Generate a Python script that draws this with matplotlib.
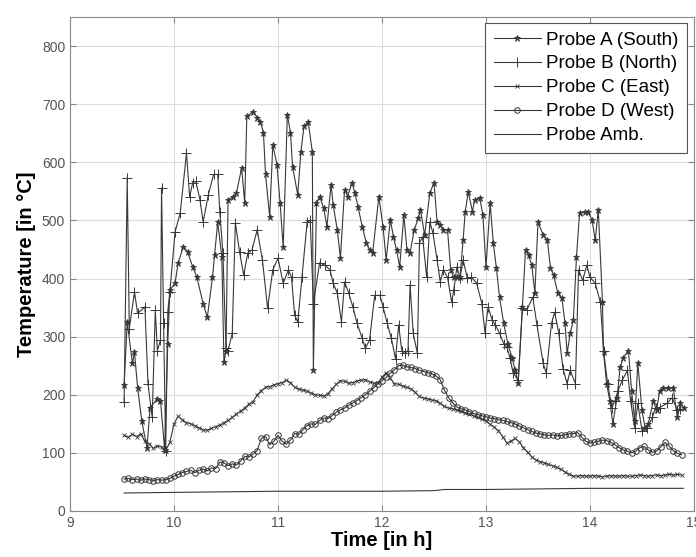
import numpy as np
import matplotlib
matplotlib.use("Agg")
import matplotlib.pyplot as plt

plt.rcParams['font.family'] = ['Liberation Sans', 'DejaVu Sans']

# Probe A (South)
t_a = [9.52, 9.55, 9.60, 9.62, 9.65, 9.69, 9.74, 9.77, 9.84, 9.87, 9.91, 9.94, 9.96, 10.01, 10.04,
       10.09, 10.13, 10.18, 10.22, 10.28, 10.32, 10.37, 10.39, 10.42, 10.46, 10.48, 10.50, 10.52, 10.57,
       10.60, 10.65, 10.68, 10.70, 10.76, 10.80, 10.83, 10.86, 10.88, 10.92, 10.95, 10.99, 11.02, 11.05,
       11.09, 11.12, 11.14, 11.19, 11.22, 11.25, 11.29, 11.33, 11.34, 11.37, 11.40, 11.44, 11.47, 11.51,
       11.53, 11.57, 11.60, 11.64, 11.67, 11.71, 11.74, 11.77, 11.81, 11.85, 11.88, 11.91, 11.97, 12.01,
       12.04, 12.08, 12.11, 12.14, 12.17, 12.21, 12.24, 12.27, 12.31, 12.35, 12.37, 12.41, 12.46, 12.50,
       12.53, 12.56, 12.59, 12.63, 12.66, 12.69, 12.72, 12.75, 12.78, 12.80, 12.83, 12.87, 12.89, 12.94,
       12.97, 13.00, 13.04, 13.07, 13.10, 13.13, 13.17, 13.21, 13.25, 13.28, 13.31, 13.35, 13.38, 13.41,
       13.44, 13.47, 13.50, 13.55, 13.59, 13.62, 13.65, 13.69, 13.73, 13.76, 13.78, 13.81, 13.84, 13.87,
       13.90, 13.95, 13.98, 14.02, 14.05, 14.08, 14.12, 14.13, 14.16, 14.19, 14.22, 14.26, 14.29, 14.32,
       14.37, 14.40, 14.43, 14.46, 14.50, 14.53, 14.56, 14.61, 14.64, 14.67, 14.70, 14.75, 14.80, 14.84,
       14.87, 14.90]
v_a = [216, 325, 254, 273, 212, 155, 109, 178, 193, 190, 105, 288, 380, 392, 427,
       455, 446, 420, 402, 357, 333, 402, 440, 497, 437, 256, 276, 535, 541,
       547, 590, 530, 679, 687, 677, 670, 651, 579, 506, 630, 596, 530, 454,
       682, 651, 592, 544, 618, 662, 670, 618, 242, 530, 541, 521, 489, 561,
       527, 484, 435, 553, 541, 565, 547, 523, 489, 461, 449, 444, 541, 489,
       432, 501, 472, 449, 420, 509, 449, 444, 484, 504, 518, 475, 547, 565,
       497, 492, 484, 484, 415, 402, 402, 402, 466, 515, 549, 515, 535, 539,
       509, 420, 530, 461, 418, 368, 323, 288, 264, 242, 221, 351, 449, 440,
       423, 375, 497, 475, 466, 418, 406, 375, 366, 323, 271, 306, 328, 437,
       513, 515, 515, 501, 466, 518, 359, 273, 219, 190, 150, 195, 247, 264,
       276, 207, 155, 254, 173, 143, 150, 190, 173, 207, 211, 211, 212, 161,
       185, 178]

# Probe B (North)
t_b = [9.52, 9.55, 9.57, 9.62, 9.65, 9.72, 9.75, 9.79, 9.82, 9.84, 9.87, 9.88, 9.90, 9.92, 9.94,
       9.96, 10.01, 10.06, 10.12, 10.15, 10.18, 10.21, 10.25, 10.28, 10.33, 10.38, 10.42, 10.44, 10.47,
       10.50, 10.52, 10.56, 10.59, 10.63, 10.67, 10.71, 10.75, 10.80, 10.85, 10.90, 10.95, 11.00, 11.05,
       11.10, 11.13, 11.16, 11.19, 11.23, 11.28, 11.31, 11.34, 11.40, 11.45, 11.50, 11.53, 11.57, 11.61,
       11.64, 11.68, 11.72, 11.76, 11.81, 11.84, 11.88, 11.93, 11.98, 12.01, 12.05, 12.09, 12.13, 12.16,
       12.19, 12.22, 12.25, 12.27, 12.30, 12.34, 12.36, 12.39, 12.43, 12.46, 12.49, 12.53, 12.56, 12.59,
       12.63, 12.67, 12.69, 12.72, 12.75, 12.78, 12.82, 12.86, 12.91, 12.96, 12.99, 13.02, 13.06, 13.09,
       13.13, 13.17, 13.20, 13.23, 13.26, 13.31, 13.35, 13.39, 13.45, 13.49, 13.55, 13.58, 13.63, 13.66,
       13.70, 13.74, 13.78, 13.81, 13.86, 13.89, 13.93, 13.97, 14.00, 14.05, 14.10, 14.13, 14.17, 14.21,
       14.24, 14.27, 14.31, 14.36, 14.39, 14.43, 14.46, 14.50, 14.55, 14.60, 14.63, 14.67, 14.74, 14.79,
       14.84, 14.87]
v_b = [187, 573, 314, 377, 340, 351, 219, 161, 345, 276, 294, 556, 323, 104, 343,
       377, 480, 513, 616, 541, 565, 567, 535, 497, 544, 579, 579, 515, 444,
       280, 276, 306, 496, 446, 406, 444, 449, 484, 432, 349, 415, 435, 392,
       415, 402, 337, 325, 402, 497, 500, 357, 427, 423, 415, 392, 375, 325,
       394, 375, 351, 323, 297, 280, 294, 371, 371, 351, 323, 297, 262, 320,
       276, 271, 276, 389, 306, 271, 461, 472, 402, 497, 478, 432, 394, 415,
       402, 359, 380, 420, 401, 432, 401, 402, 392, 357, 307, 351, 328, 320,
       306, 288, 282, 264, 238, 225, 349, 345, 368, 320, 254, 237, 323, 342,
       306, 245, 219, 242, 219, 415, 397, 423, 402, 392, 359, 276, 219, 178,
       190, 207, 225, 242, 190, 143, 185, 138, 143, 161, 178, 178, 185, 195,
       173, 176]

# Probe C (East) and Probe D (West) logged every 0.04 h
t_cd = np.round(np.arange(135) * 0.04 + 9.52, 2)
v_c = [130, 127, 132, 128, 133, 120, 116, 108, 112, 110, 104, 118,
       150, 163, 157, 152, 150, 147, 143, 140, 139, 142, 145, 148, 152, 156, 161, 167,
       172, 177, 184, 188, 200, 207, 213, 214, 217, 219, 221, 225, 221, 213, 210, 208,
       206, 203, 200, 199, 198, 202, 210, 218, 224, 223, 220, 221, 224, 225, 226, 222,
       220, 220, 230, 238, 228, 219, 218, 215, 213, 210, 204, 197, 194, 193, 191, 190,
       185, 180, 177, 176, 174, 172, 169, 167, 164, 161, 158, 155, 149, 144, 138, 128,
       117, 120, 125, 119, 109, 101, 93, 88, 85, 83, 80, 78, 75, 72, 67, 63,
       60, 60, 61, 60,
       60, 61, 60, 59, 60, 61, 60, 60, 61, 60, 60, 61, 62, 61, 60, 61, 62, 61, 62, 63,
       62, 63, 62]
v_d = [55, 56, 54, 55, 53, 55, 54, 52, 54, 53, 54, 56,
       60, 63, 66, 68, 70, 66, 70, 72, 69, 74, 73, 84, 83, 78, 81, 79,
       86, 94, 93, 98, 104, 125, 128, 114, 120, 130, 120, 115, 122, 133, 132, 140,
       147, 150, 149, 156, 160, 159, 164, 170, 174, 177, 182, 186, 190, 195, 200, 206,
       212, 219, 224, 230, 237, 243, 250, 251, 248, 247, 245, 242, 240, 238, 236, 232,
       226, 208, 195, 186, 179, 176, 174, 171, 168, 166, 164, 162, 160, 159, 157, 156,
       154, 152, 150, 146, 143, 140, 137, 134, 133, 131, 130, 131, 129, 130, 131, 133,
       133, 135, 127, 120, 117, 118, 120, 122, 121, 118, 114, 109, 105, 103, 100, 103,
       109, 111, 105, 101, 103, 110, 118, 112, 104, 99, 97]

# Ambient probe
t_amb = [9.52, 10.0, 10.5, 11.0, 11.5, 12.0, 12.5, 12.6, 13.0, 13.5, 14.0, 14.5, 14.9]
v_amb = [31, 32, 33, 34, 34, 34, 35, 37, 37, 38, 39, 39, 39]

fig = plt.figure(figsize=(6.96, 5.57), dpi=100)
ax = fig.add_axes([0.1006, 0.0826, 0.8965, 0.8869])

lc = '#383838'
ax.plot(t_a, v_a, color=lc, lw=0.8, marker='*', ms=5, mew=0.6, label='Probe A (South)')
ax.plot(t_b, v_b, color=lc, lw=0.8, marker='+', ms=7, mew=0.7, label='Probe B (North)')
ax.plot(t_cd, v_c, color=lc, lw=0.8, marker='x', ms=3, mew=0.6, label='Probe C (East)')
ax.plot(t_cd, v_d, color=lc, lw=0.8, marker='o', ms=4, mew=0.7, mfc='none', label='Probe D (West)')
ax.plot(t_amb, v_amb, color=lc, lw=0.8, label='Probe Amb.')

ax.set_xlim(9, 15)
ax.set_ylim(0, 850)
ax.set_xticks(range(9, 16))
ax.set_yticks(range(0, 900, 100))
ax.grid(True, color='#dcdcdc', lw=0.8)
ax.set_axisbelow(True)

for s in ax.spines.values():
    s.set_color('#8a8a8a')
ax.tick_params(direction='in', top=True, right=True, length=4, color='#8a8a8a',
               labelcolor='#555555', labelsize=10)

ax.set_xlabel('Time [in h]', fontsize=14.5, fontweight='bold', labelpad=1)
ax.set_ylabel('Temperature [in \u00b0C]', fontsize=14.5, fontweight='bold', labelpad=4)

leg = ax.legend(loc='upper right', bbox_to_anchor=(687 / 696, 1 - 23 / 557),
                bbox_transform=fig.transFigure, borderaxespad=0, fontsize=13.5,
                labelspacing=0.36, handlelength=2.5, handletextpad=0.3,
                borderpad=0.45, fancybox=False, framealpha=1)
leg.get_frame().set_edgecolor('#555555')
leg.get_frame().set_linewidth(0.8)

fig.savefig('out.png', dpi=100)
